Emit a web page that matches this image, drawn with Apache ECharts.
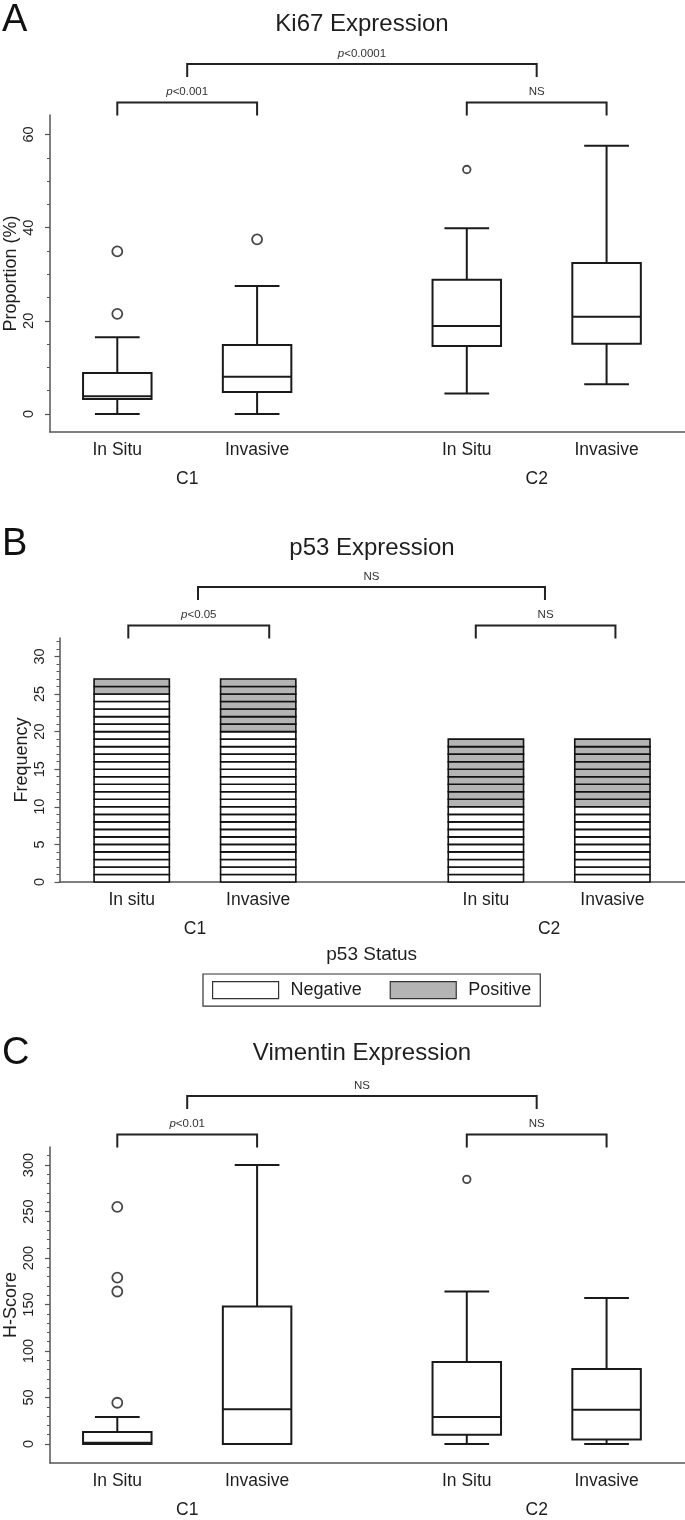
<!DOCTYPE html>
<html><head><meta charset="utf-8">
<script src="https://cdn.jsdelivr.net/npm/echarts@6/dist/echarts.min.js"></script>
<style>html,body{margin:0;padding:0;background:#fff}#c{width:685px;height:1520px}</style>
</head><body><div id="c"></div>
<script>
// ================= DATA =================
const groupLabels = ['C1', 'C2'];
const stageLabelsAC = ['In Situ', 'Invasive', 'In Situ', 'Invasive'];
const stageLabelsB = ['In situ', 'Invasive', 'In situ', 'Invasive'];

// Panel A: Ki67 proportion (%)
const ki67Min    = [0, 0, 4.4, 6.4];
const ki67Q1     = [3.2, 4.7, 14.6, 15.1];
const ki67Median = [3.8, 8.0, 18.9, 20.9];
const ki67Q3     = [8.8, 14.8, 28.8, 32.4];
const ki67Max    = [16.5, 27.5, 39.9, 57.6];
const ki67Outliers = [[21.5, 34.9], [37.5], [52.5], []];
const ki67TickValues  = [0, 5, 10, 15, 20, 25, 30, 35, 40, 45, 50, 55, 60];
const ki67LabelValues = [0, 20, 40, 60];
const ki67PLabels = ['p<0.001', 'NS', 'p<0.0001'];

// Panel B: p53 frequency
const p53Negative = [25, 20, 10, 10];
const p53Positive = [2, 7, 9, 9];
const p53TickValues  = [0,1,2,3,4,5,6,7,8,9,10,11,12,13,14,15,16,17,18,19,20,21,22,23,24,25,26,27,28,29,30,31,32];
const p53LabelValues = [0, 5, 10, 15, 20, 25, 30];
const p53PLabels = ['p<0.05', 'NS', 'NS'];

// Panel C: Vimentin H-score
const vimMin    = [0, 0, 0, 0];
const vimQ1     = [0, 0, 10, 5];
const vimMedian = [1.5, 37.3, 29, 36.9];
const vimQ3     = [12.9, 148, 88.2, 80.6];
const vimMax    = [29, 300, 164, 157];
const vimOutliers = [[44.4, 164, 179, 255], [], [284.6], []];
const vimTickValues  = [0,10,20,30,40,50,60,70,80,90,100,110,120,130,140,150,160,170,180,190,200,210,220,230,240,250,260,270,280,290,300,310];
const vimLabelValues = [0, 50, 100, 150, 200, 250, 300];
const vimPLabels = ['p<0.01', 'NS', 'NS'];

// ================= LAYOUT / STYLE =================
const FONT = '"Liberation Sans", Arial, sans-serif';
const TXT = '#1e1e1e';
const AXIS = '#555';
const posAC = [1, 2, 3.5, 4.5];
const groupPosAC = [1.5, 4];
const posB = [1, 2, 3.8, 4.8];
const groupPosB = [1.5, 4.3];
const bracketsAC = [[1, 2, 0], [3.5, 4.5, 0], [1.5, 4, 1]];
const bracketsB = [[0.973, 2.087, 0], [3.72, 4.824, 0], [1.524, 4.267, 1]];
const BOX_W = 0.49, CAP_W = 0.32, BAR_W = 0.595;
const POS_COLOR = '#b4b4b4', NEG_COLOR = '#ffffff';

function boxData(mn, q1, md, q3, mx, pos) {
  return pos.map((p, i) => [p, mn[i], q1[i], md[i], q3[i], mx[i]]);
}
function outlierData(out, pos) {
  const d = [];
  out.forEach((arr, i) => arr.forEach(v => d.push([pos[i], v])));
  return d;
}
function boxRender(params, api) {
  const x = api.value(0);
  const half = api.size([BOX_W, 0])[0] / 2;
  const capHalf = api.size([CAP_W, 0])[0] / 2;
  const p = i => api.coord([x, api.value(i)]);
  const pMin = p(1), pQ1 = p(2), pMed = p(3), pQ3 = p(4), pMax = p(5);
  const cx = pMin[0];
  const st = { stroke: '#1a1a1a', lineWidth: 2, fill: null };
  return { type: 'group', children: [
    { type: 'line', shape: { x1: cx, y1: pQ1[1], x2: cx, y2: pMin[1] }, style: st },
    { type: 'line', shape: { x1: cx - capHalf, y1: pMin[1], x2: cx + capHalf, y2: pMin[1] }, style: st },
    { type: 'line', shape: { x1: cx, y1: pQ3[1], x2: cx, y2: pMax[1] }, style: st },
    { type: 'line', shape: { x1: cx - capHalf, y1: pMax[1], x2: cx + capHalf, y2: pMax[1] }, style: st },
    { type: 'rect', shape: { x: cx - half, y: pQ3[1], width: 2 * half, height: pQ1[1] - pQ3[1] },
      style: { fill: '#fff', stroke: '#1a1a1a', lineWidth: 2 } },
    { type: 'line', shape: { x1: cx - half, y1: pMed[1], x2: cx + half, y2: pMed[1] }, style: st }
  ]};
}
function cellRender(params, api) {
  const x = api.value(0), base = api.value(1), n = api.value(2);
  const half = api.size([BAR_W, 0])[0] / 2;
  const color = api.visual('color');
  const children = [];
  for (let k = 0; k < n; k++) {
    const t = api.coord([x, base + k + 1]), b = api.coord([x, base + k]);
    children.push({ type: 'rect', shape: { x: t[0] - half, y: t[1], width: 2 * half, height: b[1] - t[1] },
      style: { fill: color, stroke: '#111', lineWidth: 1.6 } });
  }
  return { type: 'group', children };
}
function bracketRender(labels) {
  return function (params, api) {
    const x1 = api.coord([api.value(0), 0])[0];
    const x2 = api.coord([api.value(1), 0])[0];
    const level = api.value(2);
    const top = params.coordSys.y;
    const yH = top - (level ? 51 : 12.5);
    const yL = yH + 13;
    const lab = labels[params.dataIndex];
    const text = lab.charAt(0) === 'p' ? '{it|p}' + lab.slice(1) : lab;
    return { type: 'group', children: [
      { type: 'polyline', shape: { points: [[x1, yL], [x1, yH], [x2, yH], [x2, yL]] },
        style: { stroke: '#222', lineWidth: 2, fill: null } },
      { type: 'text', x: (x1 + x2) / 2, y: yH - 10.5,
        style: { text, align: 'center', verticalAlign: 'middle', fontSize: 11.5, fontFamily: FONT, fill: '#333',
          rich: { it: { fontStyle: 'italic', fontSize: 11.5, fontFamily: FONT, fill: '#333' } } } }
    ]};
  };
}
function labelFor(pos, labels) {
  return v => { const i = pos.findIndex(p => Math.abs(p - v) < 1e-6); return i >= 0 ? labels[i] : ''; };
}
function xAxes(gi, min, max, pos, labels, gpos) {
  return [
    { type: 'value', gridIndex: gi, min, max, position: 'bottom',
      axisLine: { show: true, onZero: false, lineStyle: { color: AXIS, width: 1.5 } },
      axisTick: { show: false }, splitLine: { show: false },
      axisLabel: { customValues: pos, formatter: labelFor(pos, labels), margin: 9, fontSize: 17.5, color: TXT, fontFamily: FONT } },
    { type: 'value', gridIndex: gi, min, max, position: 'bottom',
      axisLine: { show: false, onZero: false }, axisTick: { show: false }, splitLine: { show: false },
      axisLabel: { customValues: gpos, formatter: labelFor(gpos, groupLabels), margin: 38, fontSize: 17.5, color: TXT, fontFamily: FONT } }
  ];
}
function yAxes(gi, min, max, labelVals, tickVals, name, nameGap, margin) {
  return [
    { type: 'value', gridIndex: gi, min, max, position: 'left',
      name, nameLocation: 'middle', nameRotate: 90, nameGap, nameMoveOverlap: false,
      nameTextStyle: { fontSize: 18, color: TXT, fontFamily: FONT },
      axisLine: { show: true, onZero: false, lineStyle: { color: AXIS, width: 1.5 } },
      axisTick: { show: true, customValues: labelVals, length: 5, lineStyle: { color: AXIS, width: 1.2 } },
      axisLabel: { customValues: labelVals, rotate: 90, margin, fontSize: 14.5, color: TXT, fontFamily: FONT },
      splitLine: { show: false } },
    { type: 'value', gridIndex: gi, min, max, position: 'left',
      axisLine: { show: false, onZero: false },
      axisTick: { show: true, customValues: tickVals, length: 3, lineStyle: { color: AXIS, width: 1 } },
      axisLabel: { show: false }, splitLine: { show: false } }
  ];
}
function headText(x, y, text, size) {
  return { type: 'text', x, y, style: { text, fontSize: size, fontFamily: FONT, fill: TXT, align: 'center', verticalAlign: 'middle' } };
}
function panelLetter(y, text) {
  return { type: 'text', x: 2, y, style: { text, fontSize: 38, fontFamily: FONT, fill: '#111', align: 'left', verticalAlign: 'middle' } };
}
const outlierSize = v => (v[0] < 3 ? 10 : 7.5);

const chart = echarts.init(document.getElementById('c'), null, { renderer: 'canvas' });
chart.setOption({
  animation: false,
  backgroundColor: '#fff',
  textStyle: { fontFamily: FONT },
  grid: [
    { left: 50, top: 115, width: 635, height: 317, containLabel: false, outerBoundsMode: 'none' },
    { left: 59.5, top: 638, width: 625.5, height: 244, containLabel: false, outerBoundsMode: 'none' },
    { left: 50, top: 1147, width: 635, height: 316, containLabel: false, outerBoundsMode: 'none' }
  ],
  xAxis: [].concat(
    xAxes(0, 0.5186, 5.061, posAC, stageLabelsAC, groupPosAC),
    xAxes(1, 0.429, 5.374, posB, stageLabelsB, groupPosB),
    xAxes(2, 0.5186, 5.061, posAC, stageLabelsAC, groupPosAC)
  ),
  yAxis: [].concat(
    yAxes(0, -3.87, 64.2, ki67LabelValues, ki67TickValues, 'Proportion (%)', 30, 14),
    yAxes(1, 0, 32.45, p53LabelValues, p53TickValues, 'Frequency', 28.5, 12),
    yAxes(2, -20.4, 319.4, vimLabelValues, vimTickValues, 'H-Score', 30, 14)
  ),
  legend: {
    data: ['Negative', 'Positive'], left: 203, top: 974, orient: 'horizontal', icon: 'rect',
    itemWidth: 66, itemHeight: 17, itemGap: 28, padding: [7, 9, 7, 9],
    borderColor: '#333', borderWidth: 1.2, selectedMode: false,
    itemStyle: { borderColor: '#333', borderWidth: 1.2 },
    textStyle: { fontSize: 18, color: TXT, fontFamily: FONT, padding: [0, 0, 0, 7] }
  },
  graphic: [
    panelLetter(21, 'A'),
    headText(362, 24, 'Ki67 Expression', 24),
    panelLetter(545, 'B'),
    headText(372, 548, 'p53 Expression', 24),
    headText(371.7, 955, 'p53 Status', 19),
    panelLetter(1054, 'C'),
    headText(362, 1053.5, 'Vimentin Expression', 24)
  ],
  series: [
    // Panel A
    { type: 'custom', name: 'Ki67', xAxisIndex: 0, yAxisIndex: 0, renderItem: boxRender,
      encode: { x: 0, y: [1, 2, 3, 4, 5] }, data: boxData(ki67Min, ki67Q1, ki67Median, ki67Q3, ki67Max, posAC) },
    { type: 'scatter', name: 'Ki67 outliers', xAxisIndex: 0, yAxisIndex: 0, symbol: 'circle', symbolSize: outlierSize,
      itemStyle: { color: '#fff', borderColor: '#1a1a1a', borderWidth: 1.8 }, data: outlierData(ki67Outliers, posAC) },
    { type: 'custom', name: 'Ki67 brackets', xAxisIndex: 0, yAxisIndex: 0, renderItem: bracketRender(ki67PLabels),
      encode: { x: [0, 1], y: 2 }, data: bracketsAC },
    // Panel B
    { type: 'custom', name: 'Negative', xAxisIndex: 2, yAxisIndex: 2, renderItem: cellRender,
      itemStyle: { color: NEG_COLOR }, encode: { x: 0, y: [1, 2] },
      data: posB.map((p, i) => [p, 0, p53Negative[i]]) },
    { type: 'custom', name: 'Positive', xAxisIndex: 2, yAxisIndex: 2, renderItem: cellRender,
      itemStyle: { color: POS_COLOR }, encode: { x: 0, y: [1, 2] },
      data: posB.map((p, i) => [p, p53Negative[i], p53Positive[i]]) },
    { type: 'custom', name: 'p53 brackets', xAxisIndex: 2, yAxisIndex: 2, renderItem: bracketRender(p53PLabels),
      encode: { x: [0, 1], y: 2 }, data: bracketsB },
    // Panel C
    { type: 'custom', name: 'Vimentin', xAxisIndex: 4, yAxisIndex: 4, renderItem: boxRender,
      encode: { x: 0, y: [1, 2, 3, 4, 5] }, data: boxData(vimMin, vimQ1, vimMedian, vimQ3, vimMax, posAC) },
    { type: 'scatter', name: 'Vimentin outliers', xAxisIndex: 4, yAxisIndex: 4, symbol: 'circle', symbolSize: outlierSize,
      itemStyle: { color: '#fff', borderColor: '#1a1a1a', borderWidth: 1.8 }, data: outlierData(vimOutliers, posAC) },
    { type: 'custom', name: 'Vimentin brackets', xAxisIndex: 4, yAxisIndex: 4, renderItem: bracketRender(vimPLabels),
      encode: { x: [0, 1], y: 2 }, data: bracketsAC }
  ]
});
</script></body></html>
